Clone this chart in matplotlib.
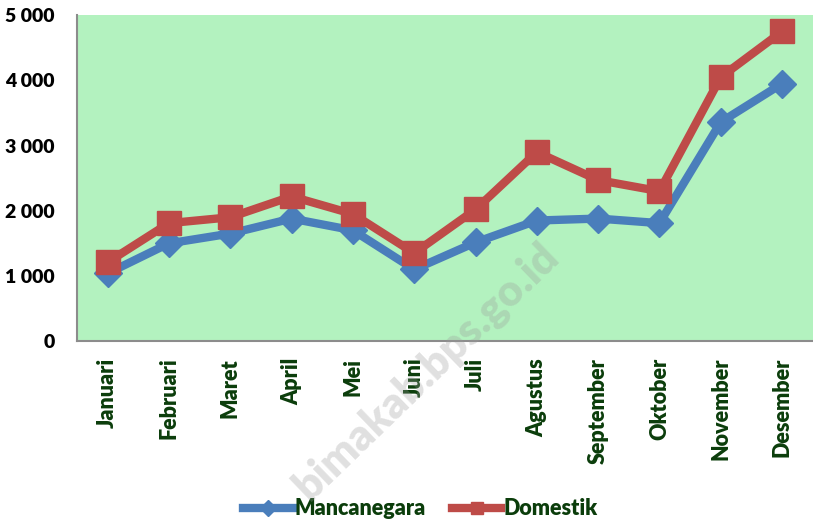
import matplotlib.pyplot as plt
from matplotlib.ticker import FuncFormatter

plt.rcParams['font.family'] = ['Lato', 'DejaVu Sans']
plt.rcParams['font.weight'] = 'heavy'

bulan = ["Januari", "Februari", "Maret", "April", "Mei", "Juni", "Juli",
         "Agustus", "September", "Oktober", "November", "Desember"]
mancanegara = [1040, 1500, 1650, 1880, 1700, 1100, 1515, 1850, 1880, 1810, 3360, 3950]
domestik = [1210, 1810, 1900, 2220, 1950, 1350, 2020, 2900, 2470, 2300, 4050, 4750]

fig = plt.figure(figsize=(8.13, 5.24), dpi=100)
ax = fig.add_axes([0.0947, 0.349, 0.905, 0.622])
ax.set_facecolor("#b3f2bf")

x = list(range(len(bulan)))
ax.plot(x, mancanegara, color="#4a7ebb", lw=6, marker="D", markersize=14,
        label="Mancanegara", zorder=3)
ax.plot(x, domestik, color="#be4b48", lw=6, marker="s", markersize=17,
        label="Domestik", zorder=4)

ax.set_xlim(-0.5, 11.5)
ax.set_ylim(0, 5000)
ax.set_yticks([0, 1000, 2000, 3000, 4000, 5000])
ax.yaxis.set_major_formatter(FuncFormatter(lambda v, p: f"{int(v):,}".replace(",", " ")))
ax.set_xticks(x)
ax.set_xticklabels(bulan, rotation=90, color="#0b3d0b", fontsize=15.5, fontweight="heavy")
ax.tick_params(axis="x", length=0, pad=12)
ax.tick_params(axis="y", length=0, pad=16, labelsize=14, labelcolor="black")

for s in ["top", "right"]:
    ax.spines[s].set_visible(False)
for s in ["left", "bottom"]:
    ax.spines[s].set_color("#8c8c8c")
    ax.spines[s].set_linewidth(1.5)

leg = fig.legend(loc="center", bbox_to_anchor=(0.517, 0.029), ncol=2, frameon=False,
                 handlelength=2.3, columnspacing=1.2, handletextpad=0.1,
                 prop={"size": 15.5, "weight": "heavy"}, markerscale=0.55)
for t in leg.get_texts():
    t.set_color("#0b3d0b")

fig.text(552, 524 - 250, "bimakab.bps.go.id", transform=None, fontsize=31,
         fontweight="heavy", color="#9a9a9a", alpha=0.3, rotation=44,
         rotation_mode="anchor", ha="right", va="center", zorder=10)

fig.savefig("out.png", dpi=100)
